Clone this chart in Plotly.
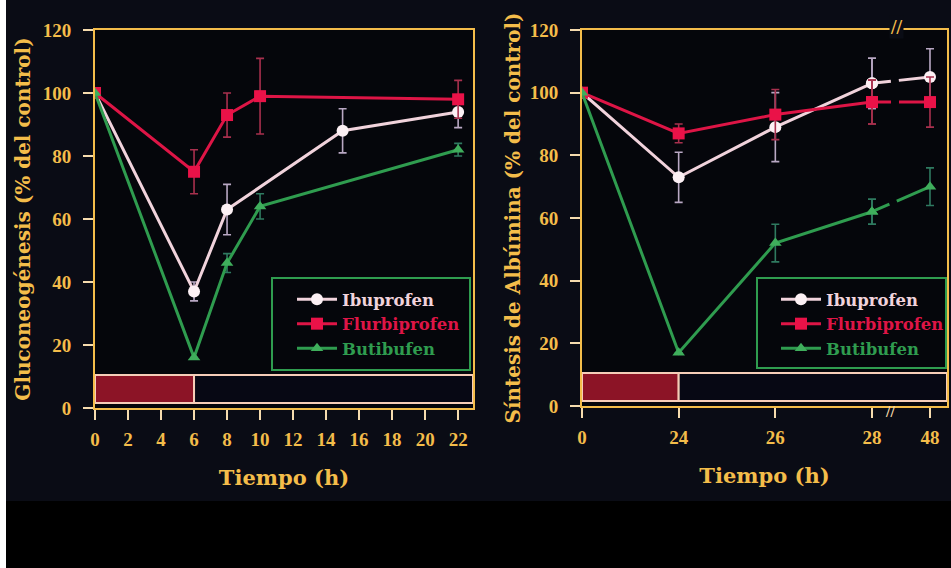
import plotly.graph_objects as go

# ---------------- data ----------------
# Left panel: Gluconeogénesis (% del control) vs Tiempo (h)
ibu_L_t = [0, 6, 8, 15, 22]
ibu_L = [100, 37, 63, 88, 94]
ibu_L_err = [0, 3, 8, 7, 5]

flu_L_t = [0, 6, 8, 10, 22]
flu_L = [100, 75, 93, 99, 98]
flu_L_err = [0, 7, 7, 12, 6]

but_L_t = [0, 6, 8, 10, 22]
but_L = [100, 16, 46, 64, 82]
but_L_err = [0, 0, 3, 4, 2]

left_xticks = [0, 2, 4, 6, 8, 10, 12, 14, 16, 18, 20, 22]
left_treatment = [0, 6]          # red strip (treatment period, h)

# Right panel: Síntesis de Albúmina (% del control) vs Tiempo (h), broken axis
right_hours = [0, 24, 26, 28, 48]
ibu_R = [100, 73, 89, 103, 105]
ibu_R_err = [0, 8, 11, 8, 9]
flu_R = [100, 87, 93, 97, 97]
flu_R_err = [0, 3, 8, 7, 8]
but_R = [100, 17, 52, 62, 70]
but_R_err = [0, 0, 6, 4, 6]
right_treatment = [0, 24]

y_ticks = [0, 20, 40, 60, 80, 100, 120]

# broken-axis scale for the right panel (hours -> axis position)
axis_pos = {0: 0, 24: 1, 26: 2, 28: 3, 48: 3.6}
def bx(hours):
    return [axis_pos[h] for h in hours]

# ---------------- style ----------------
FONT_T = "Liberation Serif"
FONT = "DejaVu Serif"
ORANGE = "#f4bd4a"
CREAM = "#f6dcae"
C_IBU, C_IBU_M, C_IBU_E = "#f1d3dc", "#fcf0f4", "#b9a8c4"
C_FLU, C_FLU_M, C_FLU_E = "#de1546", "#ea1248", "#a8304e"
C_BUT, C_BUT_M, C_BUT_E = "#2f9c4f", "#3fae5c", "#2f7a60"
BG = "#0a0c15"
PLOT_BG = "#05060b"

series = [
    ("Ibuprofen", C_IBU, C_IBU_M, C_IBU_E, "circle", 12),
    ("Flurbiprofen", C_FLU, C_FLU_M, C_FLU_E, "square", 12),
    ("Butibufen", C_BUT, C_BUT_M, C_BUT_E, "triangle-up", 11),
]

fig = go.Figure()

def add_series(x, y, err, spec, xa, ya, legend, showlegend=True, dash="solid"):
    name, lc, mc, ec, sym, ms = spec
    fig.add_trace(go.Scatter(
        x=x, y=y, mode="lines+markers",
        name=f"<span style='color:{lc}'>{name}</span>",
        line=dict(color=lc, width=3, dash=dash),
        marker=dict(symbol=sym, size=ms, color=mc, line=dict(width=0)),
        error_y=dict(type="data", array=err, visible=True, color=ec,
                     thickness=1.6, width=4),
        xaxis=xa, yaxis=ya, legend=legend, showlegend=showlegend,
        hoverinfo="skip",
    ))

# left panel
add_series(ibu_L_t, ibu_L, ibu_L_err, series[0], "x", "y", "legend")
add_series(flu_L_t, flu_L, flu_L_err, series[1], "x", "y", "legend")
add_series(but_L_t, but_L, but_L_err, series[2], "x", "y", "legend")

# right panel: solid until 28 h, broken segment 28 -> 48 h
for vals, errs, spec in [(ibu_R, ibu_R_err, series[0]),
                         (flu_R, flu_R_err, series[1]),
                         (but_R, but_R_err, series[2])]:
    add_series(bx(right_hours[:4]), vals[:4], errs[:4], spec, "x2", "y2", "legend2")
    add_series(bx(right_hours[3:]), vals[3:], errs[3:], spec, "x2", "y2", "legend2",
               showlegend=False, dash="19px,8px,60px")

W, H = 951, 568
def px(v): return v / W
def py(v): return (H - v) / H

axis_common = dict(
    showline=True, mirror=True, linecolor=ORANGE, linewidth=2,
    ticks="outside", ticklen=10, tickwidth=2, tickcolor=CREAM,
    showgrid=False, zeroline=False, automargin=False,
    tickfont=dict(family=FONT_T, size=19, color=ORANGE, weight="bold"),
)
ytitle_font = dict(family=FONT, size=20, color=ORANGE, weight="bold")
xtitle_font = dict(family=FONT, size=21, color=ORANGE, weight="bold")
legend_font = dict(family=FONT, size=16.5, color=C_IBU, weight="bold")

fig.update_layout(
    width=W, height=H, margin=dict(l=0, r=0, t=0, b=0, autoexpand=False),
    paper_bgcolor=BG, plot_bgcolor=PLOT_BG,
    xaxis=dict(domain=[px(95), px(473)], range=[0, 22.9],
               tickvals=left_xticks, ticktext=[str(t) for t in left_xticks],
               ticklabelstandoff=3,
               title=dict(text="Tiempo (h)", font=xtitle_font, standoff=22),
               anchor="y", **axis_common),
    yaxis=dict(domain=[py(408), py(30)], range=[0, 120], tickvals=y_ticks,
               ticklabelstandoff=8,
               title=dict(text="Gluconeogénesis (% del control)", font=ytitle_font, standoff=7),
               anchor="x", **axis_common),
    xaxis2=dict(domain=[px(582), px(947)], range=[0, 3.776],
                tickvals=bx(right_hours), ticktext=[str(h) for h in right_hours],
                ticklabelstandoff=3,
                title=dict(text="Tiempo (h)", font=xtitle_font, standoff=22),
                anchor="y2", **axis_common),
    yaxis2=dict(domain=[py(406), py(30)], range=[0, 120], tickvals=y_ticks,
                ticklabelstandoff=8,
                title=dict(text="Síntesis de Albúmina (% del control)", font=ytitle_font, standoff=4),
                anchor="x2", **axis_common),
    legend=dict(x=px(292), y=py(282), xanchor="left", yanchor="top",
                bgcolor="rgba(0,0,0,0)", borderwidth=0,
                font=legend_font, itemwidth=40, tracegroupgap=0),
    legend2=dict(x=px(776), y=py(282), xanchor="left", yanchor="top",
                 bgcolor="rgba(0,0,0,0)", borderwidth=0,
                 font=legend_font, itemwidth=40, tracegroupgap=0),
    showlegend=True,
)

shapes = [
    # bottom black band and white left edge of the photographed slide
    dict(type="rect", xref="paper", yref="paper", x0=0, x1=1, y0=0, y1=py(501),
         fillcolor="#000000", line=dict(width=0), layer="below"),
    dict(type="rect", xref="paper", yref="paper", x0=0, x1=px(6), y0=0, y1=1,
         fillcolor="#ffffff", line=dict(width=0), layer="below"),
    # legend frames
    dict(type="rect", xref="paper", yref="paper", x0=px(272), x1=px(470), y0=py(370), y1=py(278),
         fillcolor=PLOT_BG, line=dict(color=C_BUT, width=2), layer="below"),
    dict(type="rect", xref="paper", yref="paper", x0=px(757), x1=px(946), y0=py(368), y1=py(278),
         fillcolor=PLOT_BG, line=dict(color=C_BUT, width=2), layer="below"),
]
# treatment strips
for xa, ya, treat, xmax in [("x", "y", left_treatment, 22.9), ("x2", "y2", bx(right_treatment), 3.776)]:
    shapes.append(dict(type="rect", xref=xa, yref=ya, x0=treat[0], x1=treat[1], y0=1.6, y1=10.5,
                       fillcolor="#8c1426", line=dict(color="#f6cdb8", width=2), layer="below"))
    shapes.append(dict(type="rect", xref=xa, yref=ya, x0=treat[1], x1=xmax, y0=1.6, y1=10.5,
                       fillcolor="#070814", line=dict(color="#f6cdb8", width=2), layer="below"))
fig.update_layout(shapes=shapes)

# axis break marks
fig.add_annotation(x=3.25, y=120, xref="x2", yref="y2", text="//", showarrow=False,
                   font=dict(family=FONT_T, size=20, color=ORANGE, weight="bold"), bgcolor=BG,
                   borderpad=0, yshift=3)
fig.add_annotation(x=3.19, y=0, xref="x2", yref="y2", text="//", showarrow=False,
                   font=dict(family=FONT_T, size=16, color=CREAM, weight="bold"), yshift=-5)

fig.write_html("out.html")
